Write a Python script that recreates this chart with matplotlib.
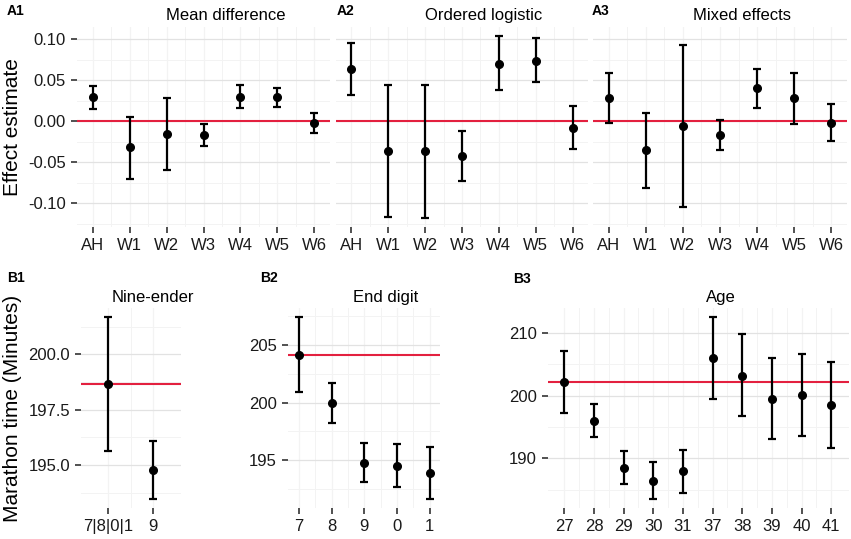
import matplotlib
matplotlib.use('Agg')
import matplotlib.pyplot as plt
from matplotlib.ticker import MultipleLocator

plt.rcParams['font.family'] = ['Liberation Sans', 'DejaVu Sans']

# ---- data ----
waves = ["AH", "W1", "W2", "W3", "W4", "W5", "W6"]

md_est = [0.029, -0.032, -0.0157, -0.0169, 0.0298, 0.029, -0.0024]
md_hi = [0.043, 0.0056, 0.0278, -0.0036, 0.0444, 0.0407, 0.0097]
md_lo = [0.015, -0.0706, -0.0593, -0.0302, 0.0157, 0.0169, -0.0141]

ol_est = [0.0633, -0.0363, -0.0363, -0.0423, 0.0701, 0.0738, -0.0081]
ol_hi = [0.0947, 0.0435, 0.0443, -0.0125, 0.1036, 0.1008, 0.0181]
ol_lo = [0.0314, -0.1165, -0.1177, -0.0722, 0.0375, 0.0472, -0.0339]

me_est = [0.0282, -0.0355, -0.0056, -0.0169, 0.0399, 0.0278, -0.0016]
me_hi = [0.0588, 0.0097, 0.0931, 0.0012, 0.0633, 0.0588, 0.0214]
me_lo = [-0.002, -0.081, -0.104, -0.0351, 0.0165, -0.0028, -0.0242]

nine_cats = ["7|8|0|1", "9"]
nine_est = [198.66, 194.79]
nine_hi = [201.68, 196.11]
nine_lo = [195.62, 193.48]
nine_ref = 198.66

digit_cats = ["7", "8", "9", "0", "1"]
digit_est = [204.14, 200.0, 194.80, 194.54, 193.93]
digit_hi = [207.39, 201.69, 196.47, 196.41, 196.15]
digit_lo = [200.88, 198.26, 193.13, 192.69, 191.66]
digit_ref = 204.14

age_cats = ["27", "28", "29", "30", "31", "37", "38", "39", "40", "41"]
age_est = [202.22, 195.98, 188.52, 186.46, 187.94, 205.93, 203.17, 199.52, 200.05, 198.52]
age_hi = [207.14, 198.62, 191.11, 189.42, 191.32, 212.49, 209.74, 206.03, 206.61, 205.29]
age_lo = [197.25, 193.33, 185.93, 183.54, 184.55, 199.37, 196.72, 193.07, 193.54, 191.69]
age_ref = 202.22

W, H = 851, 539
fig = plt.figure(figsize=(W / 100, H / 100), dpi=100)
fig.patch.set_facecolor('white')

RED = '#e3203f'
MAJ = '#e2e2e2'
MIN = '#f3f3f3'


def px_axes(l, r, t, b):
    return fig.add_axes([l / W, 1 - b / H, (r - l) / W, (b - t) / H])


def ftext(x, y, s, **kw):
    fig.text(x / W, 1 - y / H, s, **kw)


def expand(lo, hi):
    pad = (max(hi) - min(lo)) * 0.05
    return min(lo) - pad, max(hi) + pad


def panel(ax, cats, est, lo, hi, ref, xlim, ylim, major, minor, show_y=True, yfmt=None):
    xs = list(range(len(cats)))
    ax.set_xlim(*xlim)
    ax.set_ylim(*ylim)
    for s in ax.spines.values():
        s.set_visible(False)
    ax.yaxis.set_major_locator(MultipleLocator(major))
    ax.yaxis.set_minor_locator(MultipleLocator(minor))
    ax.set_xticks(xs)
    ax.set_xticks([x + 0.5 for x in xs[:-1]], minor=True)
    ax.set_xticklabels(cats)
    ax.grid(True, which='major', axis='y', color=MAJ, lw=0.9, zorder=0)
    ax.grid(True, which='minor', axis='y', color=MIN, lw=0.7, zorder=0)
    ax.grid(True, which='major', axis='x', color=MIN, lw=0.9, zorder=0)
    ax.grid(True, which='minor', axis='x', color=MIN, lw=0.7, zorder=0)
    ax.set_axisbelow(True)
    ax.tick_params(which='minor', length=0)
    ax.tick_params(which='major', length=4.5, width=1.1, color='#222222',
                   labelsize=12, labelcolor='#1a1a1a', pad=3.5)
    if yfmt:
        ax.yaxis.set_major_formatter(yfmt)
    if not show_y:
        ax.tick_params(axis='y', which='both', length=0, labelleft=False)
    ax.axhline(ref, color=RED, lw=1.5, zorder=2)
    yerr = [[e - l for e, l in zip(est, lo)], [h - e for e, h in zip(est, hi)]]
    ax.errorbar(xs, est, yerr=yerr, fmt='o', color='black', ms=5.5,
                elinewidth=1.6, capsize=3.2, capthick=1.6, zorder=3)


a_ylim = expand(md_lo + ol_lo + me_lo, md_hi + ol_hi + me_hi)
a_fmt = matplotlib.ticker.FuncFormatter(lambda v, p: f"{v:.2f}".replace("-0.00", "0.00"))
a_xlim = (-0.42, 6.42)

ax1 = px_axes(77, 330, 27, 227)
panel(ax1, waves, md_est, md_lo, md_hi, 0.0, a_xlim, a_ylim, 0.05, 0.025, yfmt=a_fmt)
ax2 = px_axes(336, 588, 27, 227)
panel(ax2, waves, ol_est, ol_lo, ol_hi, 0.0, a_xlim, a_ylim, 0.05, 0.025, show_y=False)
ax3 = px_axes(593, 847, 27, 227)
panel(ax3, waves, me_est, me_lo, me_hi, 0.0, a_xlim, a_ylim, 0.05, 0.025, show_y=False)

b1 = px_axes(81, 181, 308, 508)
panel(b1, nine_cats, nine_est, nine_lo, nine_hi, nine_ref, (-0.6, 1.62),
      expand(nine_lo, nine_hi), 2.5, 1.25,
      yfmt=matplotlib.ticker.FormatStrFormatter('%.1f'))
b2 = px_axes(288, 440, 308, 508)
panel(b2, digit_cats, digit_est, digit_lo, digit_hi, digit_ref, (-0.33, 4.31),
      expand(digit_lo, digit_hi), 5, 2.5,
      yfmt=matplotlib.ticker.FormatStrFormatter('%d'))
b3 = px_axes(548, 849, 308, 508)
panel(b3, age_cats, age_est, age_lo, age_hi, age_ref, (-0.55, 9.6),
      expand(age_lo, age_hi), 10, 5,
      yfmt=matplotlib.ticker.FormatStrFormatter('%d'))

# panel titles (sit a little right of panel centre, as in the reference)
for ax_, title, l, r, y in [(ax1, "Mean difference", 77, 330, 20),
                            (ax2, "Ordered logistic", 336, 588, 20),
                            (ax3, "Mixed effects", 593, 847, 20),
                            (b1, "Nine-ender", 81, 181, 302),
                            (b2, "End digit", 288, 440, 302),
                            (b3, "Age", 548, 849, 302)]:
    ftext((l + r) / 2 + 22, y, title, ha='center', va='baseline', fontsize=12)

for lab, x, y in [("A1", 7, 15), ("A2", 337, 15), ("A3", 592, 15),
                  ("B1", 7, 282), ("B2", 260, 282), ("B3", 513, 283)]:
    ftext(x, y, lab, ha='left', va='baseline', fontsize=10, fontweight='bold')

ftext(13, 127, "Effect estimate", rotation=90, ha='center', va='center', fontsize=15)
ftext(13, 408, "Marathon time (Minutes)", rotation=90, ha='center', va='center', fontsize=15)

fig.savefig("out.png", dpi=100)
